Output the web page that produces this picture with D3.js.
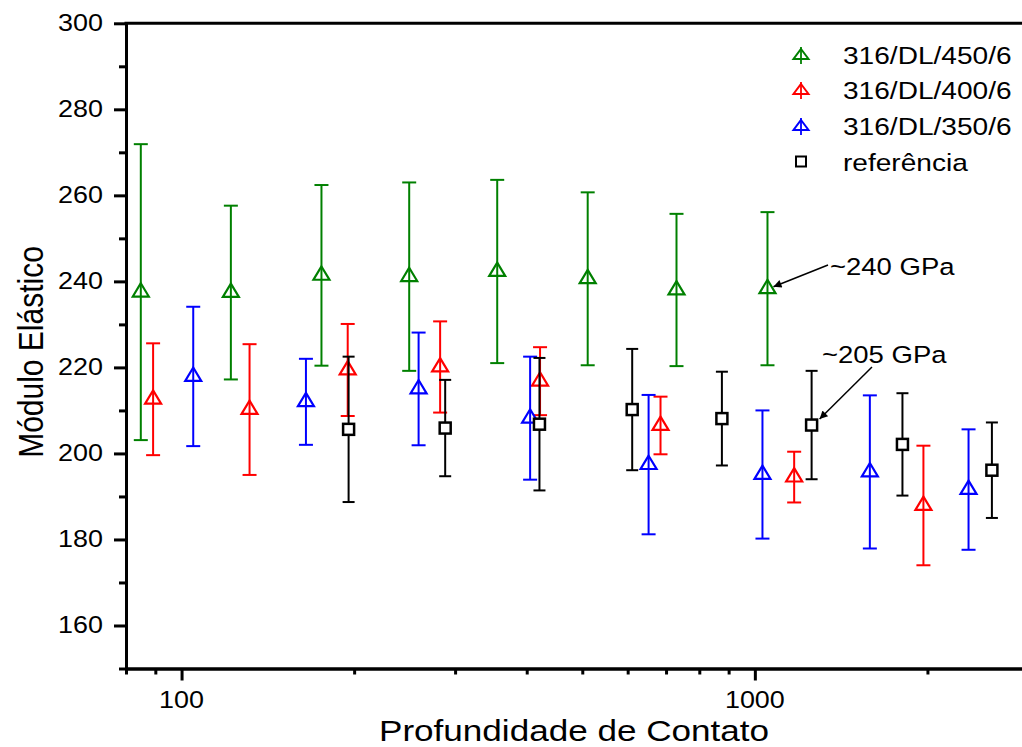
<!DOCTYPE html>
<html>
<head>
<meta charset="utf-8">
<script src="https://cdn.jsdelivr.net/npm/d3@7"></script>
<style>
  html, body { margin: 0; padding: 0; background: #fff; }
  svg { display: block; font-family: "Liberation Sans", Arial, sans-serif; }
</style>
</head>
<body>
<div id="chart"></div>
<script>
// --- data ---
const seriesNames = ["316/DL/450/6", "316/DL/400/6", "316/DL/350/6", "referência"];
const seriesColors = ["#008000", "#ff0000", "#0000ff", "#000000"];

const depth450 = [84.9, 121.9, 175.4, 249.5, 355.3, 511, 730, 1052];
const modulus450 = [237.5, 237.4, 241.4, 241.1, 242.3, 240.6, 238.0, 238.3];
const error450 = [34.4, 20.2, 21.0, 21.9, 21.3, 20.1, 17.7, 17.8];

const depth400 = [89.2, 131.4, 194.9, 282.5, 422, 684.6, 1171, 1968];
const modulus400 = [212.6, 210.2, 219.4, 220.1, 216.8, 206.5, 194.5, 187.9];
const error400 = [13.0, 15.2, 10.7, 10.6, 7.9, 6.7, 5.9, 13.9];

const depth350 = [104.8, 164.8, 259.1, 405.5, 652.6, 1031, 1587, 2359];
const modulus350 = [217.9, 212.0, 215.0, 208.2, 197.4, 195.1, 195.7, 191.6];
const error350 = [16.2, 10.0, 13.1, 14.3, 16.2, 14.9, 17.8, 14.0];

const depthRef = [195.6, 288.3, 421, 611, 876, 1256, 1809, 2591];
const modulusRef = [205.6, 205.9, 206.8, 210.2, 208.1, 206.6, 202.1, 196.1];
const errorRef = [16.9, 11.2, 15.4, 14.1, 10.9, 12.6, 11.9, 11.1];

const yMajorTicks = [160, 180, 200, 220, 240, 260, 280, 300];
const yMinorTicks = [150, 170, 190, 210, 230, 250, 270, 290];
const xMajorTicks = [100, 1000];
const xMinorTicks = [80, 90, 200, 300, 400, 500, 600, 700, 800, 900, 2000, 3000];

const annotations = [
  { text: "~240 GPa", series: 0, index: 7 },
  { text: "~205 GPa", series: 3, index: 5 }
];

document.addEventListener("DOMContentLoaded", draw);

function draw() {
  const width = 1022, height = 747;
  const left = 126, bottom = 668.5, top = 23.3;
  const decade = 573.3;
  const sx = 1.17; // the original is a bit wider than tall

  const svg = d3.select("#chart").append("svg")
    .attr("width", width)
    .attr("height", height);

  const x = d3.scaleLog()
    .domain([80, 3000])
    .range([left, left + decade * Math.log10(3000 / 80)]);
  const y = d3.scaleLinear().domain([150, 300]).range([bottom, top]);

  // text stretched a little sideways, like the original
  function label(g, txt, px, py, size, anchor) {
    return g.append("text")
      .attr("transform", `translate(${px},${py}) scale(${sx},1)`)
      .attr("text-anchor", anchor || "start")
      .attr("font-size", size)
      .attr("fill", "#000")
      .text(txt);
  }

  // --- axes ---
  svg.append("g").attr("transform", `translate(${left},0)`)
    .call(d3.axisLeft(y).tickValues(yMajorTicks).tickSize(12).tickSizeOuter(0).tickFormat(""));
  svg.append("g").attr("transform", `translate(${left},0)`)
    .call(d3.axisLeft(y).tickValues(yMinorTicks).tickSize(7).tickSizeOuter(0).tickFormat(""));
  svg.append("g").attr("transform", `translate(0,${bottom})`)
    .call(d3.axisBottom(x).tickValues(xMajorTicks).tickSize(12).tickSizeOuter(0).tickFormat(""));
  svg.append("g").attr("transform", `translate(0,${bottom})`)
    .call(d3.axisBottom(x).tickValues(xMinorTicks).tickSize(6).tickSizeOuter(0).tickFormat(""));

  svg.selectAll(".domain").attr("stroke", "#000").attr("stroke-width", 3);
  svg.selectAll(".tick line").attr("stroke", "#000").attr("stroke-width", 3);

  // top frame line
  svg.append("line")
    .attr("x1", left - 1.5).attr("x2", width)
    .attr("y1", top).attr("y2", top)
    .attr("stroke", "#000").attr("stroke-width", 3);

  yMajorTicks.forEach(v => label(svg, v, 103, y(v) + 8, 23, "end"));
  xMajorTicks.forEach(v => label(svg, v, x(v), 708, 23, "middle"));

  label(svg, "Profundidade de Contato", 574, 741, 30, "middle");
  svg.append("text")
    .attr("transform", `translate(43,352) rotate(-90) scale(1,${sx})`)
    .attr("text-anchor", "middle")
    .attr("font-size", 30)
    .text("Módulo Elástico");

  // --- series ---
  const series = [
    { xs: depth450, ys: modulus450, es: error450, shape: "tri" },
    { xs: depth400, ys: modulus400, es: error400, shape: "tri" },
    { xs: depth350, ys: modulus350, es: error350, shape: "tri" },
    { xs: depthRef, ys: modulusRef, es: errorRef, shape: "sq" }
  ];

  const triPath = "M0,-8.9 L8,4.4 L-8,4.4 Z";

  series.forEach((s, si) => {
    const color = seriesColors[si];
    const g = svg.append("g");
    const cap = s.shape === "sq" ? 6 : 7;
    s.xs.forEach((d, i) => {
      const cx = x(d);
      const yTop = y(s.ys[i] + s.es[i]);
      const yBot = y(s.ys[i] - s.es[i]);
      g.append("line").attr("x1", cx).attr("x2", cx).attr("y1", yTop).attr("y2", yBot)
        .attr("stroke", color).attr("stroke-width", 2);
      g.append("line").attr("x1", cx - cap).attr("x2", cx + cap).attr("y1", yTop).attr("y2", yTop)
        .attr("stroke", color).attr("stroke-width", 2);
      g.append("line").attr("x1", cx - cap).attr("x2", cx + cap).attr("y1", yBot).attr("y2", yBot)
        .attr("stroke", color).attr("stroke-width", 2);
      if (s.shape === "tri") {
        g.append("path").attr("d", triPath)
          .attr("transform", `translate(${cx},${y(s.ys[i])})`)
          .attr("fill", "none").attr("stroke", color).attr("stroke-width", 2.2);
      } else {
        g.append("rect")
          .attr("x", cx - 5.5).attr("y", y(s.ys[i]) - 5.5)
          .attr("width", 11).attr("height", 11)
          .attr("fill", "#fff").attr("stroke", color).attr("stroke-width", 2.5);
      }
    });
  });

  // --- legend ---
  const legendRows = [55, 90, 126, 161.5];
  const legend = svg.append("g");
  seriesNames.forEach((name, i) => {
    const cy = legendRows[i];
    if (i < 3) {
      legend.append("line").attr("x1", 801).attr("x2", 801).attr("y1", cy - 8).attr("y2", cy + 9)
        .attr("stroke", seriesColors[i]).attr("stroke-width", 1.8);
      legend.append("path").attr("d", "M0,-6 L7.5,4 L-7.5,4 Z")
        .attr("transform", `translate(801,${cy})`)
        .attr("fill", "none").attr("stroke", seriesColors[i]).attr("stroke-width", 2);
    } else {
      legend.append("rect").attr("x", 796).attr("y", cy - 5).attr("width", 10).attr("height", 10)
        .attr("fill", "#fff").attr("stroke", "#000").attr("stroke-width", 2);
    }
    label(legend, name, 843, cy + 9, 24);
  });

  // --- annotations with arrows ---
  svg.append("defs").append("marker")
    .attr("id", "head")
    .attr("viewBox", "0 0 10 10")
    .attr("refX", 10).attr("refY", 5)
    .attr("markerWidth", 10).attr("markerHeight", 8)
    .attr("markerUnits", "userSpaceOnUse")
    .attr("orient", "auto")
    .append("path").attr("d", "M0,0 L10,5 L0,10 Z").attr("fill", "#000");

  const annoPos = [
    { tx: 830, ty: 275, ax: 828, ay: 265, dx: 6, dy: -2 },
    { tx: 822, ty: 363, ax: 872, ay: 367, dx: 8, dy: -6 }
  ];
  annotations.forEach((a, i) => {
    const p = annoPos[i];
    const s = series[a.series];
    const px = x(s.xs[a.index]) + p.dx;
    const py = y(s.ys[a.index]) + p.dy;
    svg.append("line")
      .attr("x1", p.ax).attr("y1", p.ay).attr("x2", px).attr("y2", py)
      .attr("stroke", "#000").attr("stroke-width", 1.5)
      .attr("marker-end", "url(#head)");
    label(svg, a.text, p.tx, p.ty, 23.5);
  });
}
</script>
</body>
</html>
